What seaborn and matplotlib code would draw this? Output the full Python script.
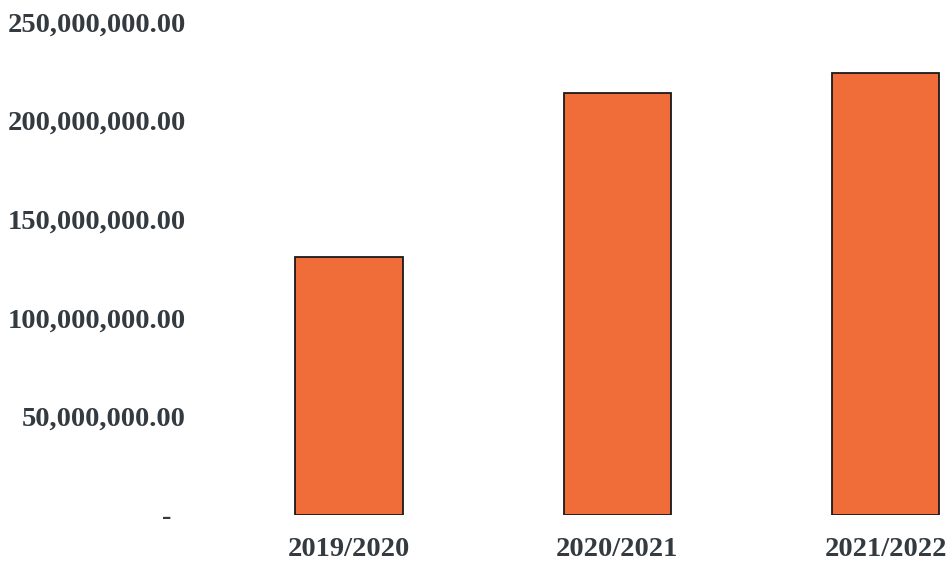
import matplotlib
matplotlib.use("Agg")
import matplotlib.pyplot as plt
import seaborn as sns
import pandas as pd

categories = ["2019/2020", "2020/2021", "2021/2022"]
values = [130_700_000, 214_100_000, 224_000_000]
yticks = [0, 50_000_000, 100_000_000, 150_000_000, 200_000_000, 250_000_000]

df = pd.DataFrame({"year": categories, "value": values})

sns.set_style("white")
plt.rcParams["font.family"] = ["Liberation Serif", "DejaVu Serif"]

fig = plt.figure(figsize=(9.49, 5.61), dpi=100)
ax = fig.add_axes([215 / 949, 46 / 561, 1 - 215 / 949, (515 - 22) / 561])

sns.barplot(data=df, x="year", y="value", ax=ax, color="#F06C38",
            saturation=1, width=0.40, edgecolor="#1a1a1a", linewidth=1.3)

ax.set_ylim(0, 250_000_000)
ax.set_xlim(-0.5, 2.236)
ax.set_yticks(yticks)
labels = [("-  " if v == 0 else f"{v:,.2f}") for v in yticks]
ax.set_yticklabels(labels)
txtc = "#333a40"
ax.tick_params(axis="y", length=0, pad=21, labelsize=20.5, labelcolor=txtc)
ax.tick_params(axis="x", length=0, pad=16, labelsize=20.5, labelcolor=txtc)
for lab in ax.get_yticklabels() + ax.get_xticklabels():
    lab.set_fontweight("bold")
ax.set_xlabel("")
ax.set_ylabel("")
for s in ax.spines.values():
    s.set_visible(False)
ax.grid(False)

fig.savefig("out.png", dpi=100)
